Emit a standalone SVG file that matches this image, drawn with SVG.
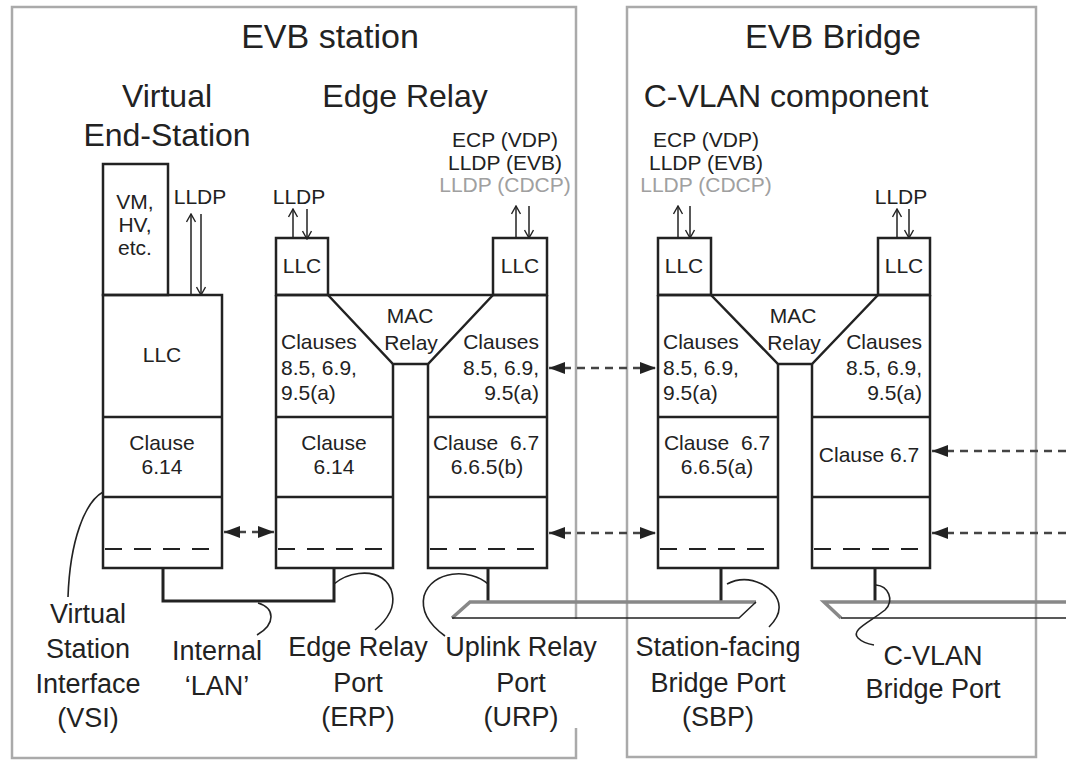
<svg xmlns="http://www.w3.org/2000/svg" width="1066" height="760" viewBox="0 0 1066 760">
<style>
text{font-family:"Liberation Sans",Arial,sans-serif;fill:#222;white-space:pre}
.t1{font-size:34px;text-anchor:middle}
.t2{font-size:32px;text-anchor:middle}
.s{font-size:21px}
.c{text-anchor:middle}
.r{text-anchor:end}
.b{font-size:27px;text-anchor:middle}
.gray{fill:#a0a0a0}
.frame{fill:none;stroke:#aaaaaa;stroke-width:2.5}
.ln{fill:none;stroke:#222;stroke-width:2.5}
.dash{fill:none;stroke:#222;stroke-width:2;stroke-dasharray:17 12}
.thin{fill:none;stroke:#222;stroke-width:1.5}
.port{fill:none;stroke:#222;stroke-width:3}
.bartop{fill:none;stroke:#888;stroke-width:3.5}
.barbot{fill:none;stroke:#222;stroke-width:1.5}
.da{fill:none;stroke:#444;stroke-width:2.5;stroke-dasharray:8 6}
.curve{fill:none;stroke:#222;stroke-width:1.6}
</style>
<defs>
<marker id="fa" viewBox="0 0 16 12" refX="16" refY="6" markerWidth="16" markerHeight="12" markerUnits="userSpaceOnUse" orient="auto-start-reverse">
<path d="M0,0 L16,6 L0,12 z" fill="#222"/>
</marker>
<marker id="oa" viewBox="0 0 10 10" refX="9" refY="5" markerWidth="10" markerHeight="10" markerUnits="userSpaceOnUse" orient="auto">
<path d="M1,0.5 L9,5 L1,9.5" fill="none" stroke="#222" stroke-width="1.4"/>
</marker>
</defs>
<rect width="1066" height="760" fill="#fff"/>

<g id="evb-station">
<path class="frame" d="M576,619 V7 H12 V758 H576 V728"/>
<text class="t1" x="330" y="48">EVB station</text>
</g>
<g id="evb-bridge">
<rect class="frame" x="627" y="7" width="409" height="750"/>
<text class="t1" x="833" y="48">EVB Bridge</text>
</g>

<g id="virtual-end-station">
<text class="t2" x="167" y="107">Virtual</text>
<text class="t2" x="167" y="146">End-Station</text>
<rect class="ln" x="103" y="164" width="65" height="131"/>
<text class="s c" x="135" y="209">VM,</text>
<text class="s c" x="135" y="232">HV,</text>
<text class="s c" x="135" y="255">etc.</text>
<text class="s c" x="200" y="204">LLDP</text>
<line class="thin" x1="191" y1="295" x2="191" y2="214" marker-end="url(#oa)"/>
<line class="thin" x1="201" y1="214" x2="201" y2="295" marker-end="url(#oa)"/>
<rect class="ln" x="103" y="295" width="119" height="273"/>
<line class="ln" x1="103" y1="417" x2="222" y2="417"/>
<line class="ln" x1="103" y1="497" x2="222" y2="497"/>
<line class="dash" x1="105" y1="549" x2="220" y2="549"/>
<text class="s c" x="162" y="362">LLC</text>
<text class="s c" x="162" y="450">Clause</text>
<text class="s c" x="162" y="474">6.14</text>
</g>

<g id="edge-relay">
<text class="t2" x="405" y="107">Edge Relay</text>
<text class="s c" x="299" y="204">LLDP</text>
<line class="thin" x1="293" y1="239" x2="293" y2="209" marker-end="url(#oa)"/>
<line class="thin" x1="307" y1="209" x2="307" y2="239" marker-end="url(#oa)"/>
<text class="s c" x="505" y="147">ECP (VDP)</text>
<text class="s c" x="505" y="170">LLDP (EVB)</text>
<text class="s c gray" x="505" y="192">LLDP (CDCP)</text>
<line class="thin" x1="516" y1="238" x2="516" y2="206" marker-end="url(#oa)"/>
<line class="thin" x1="529" y1="206" x2="529" y2="238" marker-end="url(#oa)"/>
<rect class="ln" x="276" y="238" width="52" height="57"/>
<rect class="ln" x="493" y="238" width="54" height="57"/>
<text class="s c" x="302" y="273">LLC</text>
<text class="s c" x="520" y="273">LLC</text>
<line class="ln" x1="276" y1="295" x2="547" y2="295"/>
<polyline class="ln" points="328,295 393,364 428,364 493,295"/>
<polyline class="ln" points="276,295 276,568 393,568 393,364"/>
<polyline class="ln" points="428,364 428,568 547,568 547,295"/>
<line class="ln" x1="276" y1="417" x2="393" y2="417"/>
<line class="ln" x1="276" y1="497" x2="393" y2="497"/>
<line class="ln" x1="428" y1="417" x2="547" y2="417"/>
<line class="ln" x1="428" y1="497" x2="547" y2="497"/>
<line class="dash" x1="278" y1="549" x2="391" y2="549"/>
<line class="dash" x1="430" y1="549" x2="545" y2="549"/>
<text class="s c" x="410" y="323">MAC</text>
<text class="s c" x="411" y="350">Relay</text>
<text class="s" x="281" y="349">Clauses</text>
<text class="s" x="281" y="375">8.5, 6.9,</text>
<text class="s" x="281" y="400">9.5(a)</text>
<text class="s r" x="539" y="349">Clauses</text>
<text class="s r" x="539" y="375">8.5, 6.9,</text>
<text class="s r" x="539" y="400">9.5(a)</text>
<text class="s c" x="334" y="450">Clause</text>
<text class="s c" x="334" y="474">6.14</text>
<text class="s c" x="486" y="450">Clause  6.7</text>
<text class="s c" x="487" y="474">6.6.5(b)</text>
</g>

<g id="cvlan-component">
<text class="t2" x="786" y="107">C-VLAN component</text>
<text class="s c" x="706" y="147">ECP (VDP)</text>
<text class="s c" x="706" y="170">LLDP (EVB)</text>
<text class="s c gray" x="706" y="192">LLDP (CDCP)</text>
<line class="thin" x1="678" y1="238" x2="678" y2="206" marker-end="url(#oa)"/>
<line class="thin" x1="690" y1="206" x2="690" y2="238" marker-end="url(#oa)"/>
<text class="s c" x="901" y="204">LLDP</text>
<line class="thin" x1="897" y1="238" x2="897" y2="209" marker-end="url(#oa)"/>
<line class="thin" x1="909" y1="209" x2="909" y2="238" marker-end="url(#oa)"/>
<rect class="ln" x="658" y="238" width="53" height="57"/>
<rect class="ln" x="878" y="238" width="52" height="57"/>
<text class="s c" x="684" y="273">LLC</text>
<text class="s c" x="904" y="273">LLC</text>
<line class="ln" x1="658" y1="295" x2="930" y2="295"/>
<polyline class="ln" points="711,295 778,364 812,364 878,295"/>
<polyline class="ln" points="658,295 658,568 778,568 778,364"/>
<polyline class="ln" points="812,364 812,568 930,568 930,295"/>
<line class="ln" x1="658" y1="417" x2="778" y2="417"/>
<line class="ln" x1="658" y1="497" x2="778" y2="497"/>
<line class="ln" x1="812" y1="417" x2="930" y2="417"/>
<line class="ln" x1="812" y1="497" x2="930" y2="497"/>
<line class="dash" x1="660" y1="549" x2="776" y2="549"/>
<line class="dash" x1="814" y1="549" x2="928" y2="549"/>
<text class="s c" x="793" y="323">MAC</text>
<text class="s c" x="794" y="350">Relay</text>
<text class="s" x="663" y="349">Clauses</text>
<text class="s" x="663" y="375">8.5, 6.9,</text>
<text class="s" x="663" y="400">9.5(a)</text>
<text class="s r" x="922" y="349">Clauses</text>
<text class="s r" x="922" y="375">8.5, 6.9,</text>
<text class="s r" x="922" y="400">9.5(a)</text>
<text class="s c" x="717" y="450">Clause  6.7</text>
<text class="s c" x="717" y="474">6.6.5(a)</text>
<text class="s c" x="869" y="462">Clause 6.7</text>
</g>

<g id="ports">
<path class="port" d="M163,568 V601 H334 V568"/>
<line class="port" x1="488" y1="568" x2="488" y2="602"/>
<line class="port" x1="721" y1="568" x2="721" y2="602"/>
<line class="port" x1="875" y1="568" x2="875" y2="602"/>
<polyline class="bartop" points="452,618 470,602 756,602"/>
<polyline class="barbot" points="452,618 739,618 756,602"/>
<polyline class="bartop" points="841,618 824,602 1066,602"/>
<line class="barbot" x1="841" y1="618" x2="1066" y2="618"/>
</g>

<g id="connectors">
<line class="da" x1="549" y1="368" x2="656" y2="368" marker-start="url(#fa)" marker-end="url(#fa)"/>
<line class="da" x1="549" y1="533" x2="656" y2="533" marker-start="url(#fa)" marker-end="url(#fa)"/>
<line class="da" x1="224" y1="532" x2="274" y2="532" marker-start="url(#fa)" marker-end="url(#fa)"/>
<line class="da" x1="1066" y1="451" x2="932" y2="451" marker-end="url(#fa)"/>
<line class="da" x1="1066" y1="533" x2="932" y2="533" marker-end="url(#fa)"/>
<path class="curve" d="M103,492 C85,502 70,540 68,597"/>
<path class="curve" d="M258,603 C275,608 276,624 257,635"/>
<path class="curve" d="M334,584 C348,572 370,570 382,578 C394,586 395,602 390,612 C386,620 380,626 375,630"/>
<path class="curve" d="M488,584 C470,568 432,570 424,596 C420,614 434,628 445,636"/>
<path class="curve" d="M727,584 C750,572 778,588 779,606 C780,615 774,622 769,627"/>
<path class="curve" d="M876,585 C888,586 895,600 885,610 C870,622 850,630 858,638 C862,642 868,644 874,645"/>
</g>

<g id="labels">
<text class="b" x="88" y="623">Virtual</text>
<text class="b" x="88" y="658">Station</text>
<text class="b" x="88" y="693">Interface</text>
<text class="b" x="88" y="727">(VSI)</text>
<text class="b" x="217" y="660">Internal</text>
<text class="b" x="217" y="695">‘LAN’</text>
<text class="b" x="358" y="656">Edge Relay</text>
<text class="b" x="358" y="692">Port</text>
<text class="b" x="358" y="726">(ERP)</text>
<text class="b" x="521" y="656">Uplink Relay</text>
<text class="b" x="521" y="692">Port</text>
<text class="b" x="521" y="726">(URP)</text>
<text class="b" x="718" y="656">Station-facing</text>
<text class="b" x="718" y="692">Bridge Port</text>
<text class="b" x="718" y="726">(SBP)</text>
<text class="b" x="933" y="665">C-VLAN</text>
<text class="b" x="933" y="698">Bridge Port</text>
</g>
</svg>
